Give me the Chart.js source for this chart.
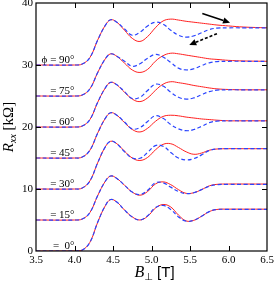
<!DOCTYPE html>
<html>
<head>
<meta charset="utf-8">
<script src="https://cdn.jsdelivr.net/npm/chart.js@4"></script>
<style>
  body { margin: 0; background: #fff; }
  canvas { display: block; }
</style>
</head>
<body>
<canvas id="chart" width="277" height="291"></canvas>
<script>
// field values B_perp [T], shared by all curves
const bField = [3.5, 4.0, 4.1, 4.2, 4.3, 4.4, 4.47, 4.55, 4.65, 4.75, 4.85, 4.95, 5.05, 5.15, 5.25, 5.35, 5.45, 5.55, 5.65, 5.75, 5.85, 6.0, 6.2, 6.5];

// R_xx [kOhm], curves offset by 5 kOhm each; red = solid sweep, blue = dashed sweep
const red90  = [30, 30, 30.15, 31.2, 34.0, 36.4, 37.3, 36.9, 35.6, 34.3, 33.8, 34.6, 36.0, 37.1, 37.4, 37.25, 37.05, 36.9, 36.75, 36.6, 36.45, 36.3, 36.12, 36.0];
const blue90 = [30, 30, 30.15, 31.2, 34.0, 36.4, 37.3, 36.9, 35.8, 34.8, 35.3, 36.3, 36.9, 36.6, 35.6, 34.8, 34.5, 34.7, 35.2, 35.7, 35.95, 36.0, 36.0, 36.0];
const red75  = [25, 25, 25.15, 26.15, 28.75, 31.0, 31.8, 31.4, 30.3, 29.2, 28.8, 29.3, 30.6, 31.5, 31.9, 31.8, 31.6, 31.4, 31.2, 31.0, 30.9, 30.75, 30.65, 30.6];
const blue75 = [25, 25, 25.15, 26.15, 28.75, 31.0, 31.8, 31.4, 30.6, 29.8, 30.2, 31.1, 31.7, 31.3, 30.4, 29.5, 29.2, 29.4, 29.9, 30.35, 30.55, 30.6, 30.6, 30.6];
const red60  = [20, 20, 20.15, 21.2, 23.95, 26.3, 27.2, 26.8, 25.6, 24.5, 24.1, 24.7, 25.9, 26.9, 27.3, 27.15, 26.95, 26.7, 26.5, 26.3, 26.15, 26.05, 26.0, 26.0];
const blue60 = [20, 20, 20.15, 21.2, 23.95, 26.3, 27.2, 26.8, 25.7, 24.6, 24.8, 25.9, 26.9, 26.6, 25.6, 24.8, 24.5, 24.7, 25.2, 25.7, 25.95, 26.0, 26.0, 26.0];
const red45  = [15, 15, 15.15, 16.25, 19.0, 21.4, 22.3, 21.9, 20.7, 19.6, 19.2, 19.8, 20.9, 21.7, 21.9, 21.8, 21.6, 21.45, 21.3, 21.2, 21.1, 21.0, 21.0, 21.0];
const blue45 = [15, 15, 15.15, 16.25, 19.0, 21.4, 22.3, 21.9, 20.8, 19.7, 19.9, 20.9, 21.8, 21.4, 20.4, 19.7, 19.4, 19.6, 20.1, 20.7, 20.95, 21.0, 21.0, 21.0];
const red30  = [10, 10, 10.15, 11.3, 14.2, 16.8, 17.7, 17.3, 16.1, 15.0, 14.6, 15.1, 16.3, 17.2, 17.3, 16.7, 16.0, 15.6, 15.8, 16.25, 16.45, 16.5, 16.5, 16.5];
const blue30 = [10, 10, 10.15, 11.3, 14.2, 16.8, 17.7, 17.3, 16.0, 15.0, 14.95, 15.9, 17.0, 16.9, 15.9, 15.0, 14.7, 14.9, 15.5, 16.2, 16.45, 16.5, 16.5, 16.5];
const red15  = [5, 5, 5.15, 6.2, 8.9, 11.25, 12.1, 11.7, 10.6, 9.5, 9.0, 9.6, 10.8, 11.15, 10.7, 9.9, 9.3, 9.4, 9.9, 10.5, 10.75, 10.8, 10.8, 10.8];
const blue15 = [5, 5, 5.15, 6.2, 8.9, 11.25, 12.1, 11.7, 10.6, 9.5, 9.1, 9.8, 11.0, 11.0, 10.3, 9.6, 9.25, 9.4, 9.9, 10.45, 10.7, 10.75, 10.75, 10.75];
const red0   = [0, 0, 0.15, 1.4, 4.6, 7.3, 8.3, 7.9, 6.6, 5.5, 5.0, 5.6, 6.9, 7.5, 7.1, 5.8, 4.85, 4.95, 5.6, 6.35, 6.7, 6.75, 6.75, 6.75];
const blue0  = [0, 0, 0.15, 1.4, 4.6, 7.3, 8.3, 7.9, 6.6, 5.5, 5.0, 5.7, 7.0, 7.35, 6.7, 5.5, 4.8, 4.95, 5.6, 6.35, 6.7, 6.7, 6.7, 6.7];

// curve labels and the baseline each one sits on
const angleLabels = ['\u03d5 = 90\u00b0', '= 75\u00b0', '= 60\u00b0', '= 45\u00b0', '= 30\u00b0', '= 15\u00b0', '=  0\u00b0'];
const angleOffsets = [30, 25, 20, 15, 10, 5, 0];

// tick positions
const xTicks = [3.5, 4.0, 4.5, 5.0, 5.5, 6.0, 6.5];
const yTicks = [0, 10, 20, 30, 40];

// sweep arrows in data units: [x0, y0, x1, y1]
const solidArrow = [5.66, 38.3, 6.02, 36.82];
const dashedArrow = [5.85, 35.05, 5.49, 33.23];

const redCurves = [red90, red75, red60, red45, red30, red15, red0];
const blueCurves = [blue90, blue75, blue60, blue45, blue30, blue15, blue0];

function toPoints(ys) {
    return bField.map((x, i) => ({ x: x, y: ys[i] }));
}

const datasets = [];
blueCurves.forEach(c => datasets.push({
    data: toPoints(c), borderColor: '#2a44ff', borderWidth: 1.2, borderDash: [4, 2.5], order: 0
}));
redCurves.forEach(c => datasets.push({
    data: toPoints(c), borderColor: '#ff1f1f', borderWidth: 1, order: 1
}));

const serif = '"Liberation Serif", "Times New Roman", serif';

function drawArrow(ctx, xs, ys, a, dashed) {
    const x0 = xs.getPixelForValue(a[0]), y0 = ys.getPixelForValue(a[1]);
    const x1 = xs.getPixelForValue(a[2]), y1 = ys.getPixelForValue(a[3]);
    const ang = Math.atan2(y1 - y0, x1 - x0);
    const hl = 7, hw = 3.2;
    ctx.save();
    ctx.strokeStyle = '#000';
    ctx.fillStyle = '#000';
    ctx.lineWidth = 1.6;
    if (dashed) ctx.setLineDash([3, 2]);
    ctx.beginPath();
    ctx.moveTo(x0, y0);
    ctx.lineTo(x1 - hl * Math.cos(ang), y1 - hl * Math.sin(ang));
    ctx.stroke();
    ctx.setLineDash([]);
    ctx.beginPath();
    ctx.moveTo(x1, y1);
    ctx.lineTo(x1 - hl * Math.cos(ang) + hw * Math.sin(ang), y1 - hl * Math.sin(ang) - hw * Math.cos(ang));
    ctx.lineTo(x1 - hl * Math.cos(ang) - hw * Math.sin(ang), y1 - hl * Math.sin(ang) + hw * Math.cos(ang));
    ctx.closePath();
    ctx.fill();
    ctx.restore();
}

const decorations = {
    id: 'decorations',
    afterDraw(chart) {
        const ctx = chart.ctx;
        const a = chart.chartArea;
        const xs = chart.scales.x, ys = chart.scales.y;

        // frame with inward ticks on all four sides
        ctx.save();
        ctx.strokeStyle = '#000';
        ctx.lineWidth = 1.2;
        ctx.strokeRect(a.left, a.top, a.right - a.left, a.bottom - a.top);
        ctx.lineWidth = 1;
        ctx.beginPath();
        xTicks.slice(1, -1).forEach(v => {
            const px = Math.round(xs.getPixelForValue(v)) + 0.5;
            ctx.moveTo(px, a.bottom); ctx.lineTo(px, a.bottom - 5);
            ctx.moveTo(px, a.top); ctx.lineTo(px, a.top + 5);
        });
        yTicks.slice(1, -1).forEach(v => {
            const py = Math.round(ys.getPixelForValue(v)) + 0.5;
            ctx.moveTo(a.left, py); ctx.lineTo(a.left + 5, py);
            ctx.moveTo(a.right, py); ctx.lineTo(a.right - 5, py);
        });
        ctx.stroke();

        // angle labels
        ctx.fillStyle = '#000';
        ctx.font = '11px ' + serif;
        ctx.textAlign = 'right';
        ctx.textBaseline = 'alphabetic';
        angleLabels.forEach((t, i) => {
            ctx.fillText(t, xs.getPixelForValue(4.0), ys.getPixelForValue(angleOffsets[i]) - 2);
        });

        // arrows
        drawArrow(ctx, xs, ys, solidArrow, false);
        drawArrow(ctx, xs, ys, dashedArrow, true);

        // x title: B_perp [T]
        ctx.textAlign = 'left';
        const fB = 'italic 16px ' + serif, fSub = '10px "DejaVu Sans", sans-serif', fT = '15px "Liberation Sans", Arial, sans-serif';
        ctx.font = fB; const wB = ctx.measureText('B').width;
        ctx.font = fSub; const wS = ctx.measureText('\u22a5').width;
        ctx.font = fT; const wT = ctx.measureText(' [T]').width;
        let x = (a.left + a.right) / 2 + 3 - (wB + wS + wT) / 2;
        const yb = 277;
        ctx.font = fB; ctx.fillText('B', x, yb); x += wB;
        ctx.font = fSub; ctx.fillText('\u22a5', x, yb + 3); x += wS;
        ctx.font = fT; ctx.fillText(' [T]', x, yb);

        // y title: R_xx [kOhm]
        ctx.translate(13, (a.top + a.bottom) / 2);
        ctx.rotate(-Math.PI / 2);
        const fR = 'italic 15px ' + serif, fXX = 'italic 10px ' + serif, fK = '15px ' + serif;
        ctx.font = fR; const wR = ctx.measureText('R').width;
        ctx.font = fXX; const wX = ctx.measureText('xx').width;
        ctx.font = fK; const wK = ctx.measureText(' [k\u03a9]').width;
        let t = -(wR + wX + wK) / 2;
        ctx.font = fR; ctx.fillText('R', t, 0); t += wR;
        ctx.font = fXX; ctx.fillText('xx', t, 3); t += wX;
        ctx.font = fK; ctx.fillText(' [k\u03a9]', t, 0);
        ctx.restore();
    }
};

new Chart(document.getElementById('chart'), {
    type: 'line',
    data: { datasets: datasets },
    options: {
        responsive: false,
        animation: false,
        events: [],
        layout: { padding: { top: 3, right: 10, left: 0, bottom: 0 } },
        elements: {
            point: { radius: 0 },
            line: { tension: 0.4, fill: false }
        },
        plugins: { legend: { display: false }, tooltip: { enabled: false } },
        scales: {
            x: {
                type: 'linear', min: 3.5, max: 6.5,
                grid: { display: false, drawTicks: false },
                border: { display: false },
                afterBuildTicks: s => { s.ticks = xTicks.map(v => ({ value: v })); },
                afterFit: s => { s.height = 40; s.paddingLeft = 0; s.paddingRight = 0; },
                ticks: { padding: 3, color: '#000', font: { family: serif, size: 11 }, callback: v => v.toFixed(1), maxRotation: 0 }
            },
            y: {
                min: 0, max: 40,
                grid: { display: false, drawTicks: false },
                border: { display: false },
                afterBuildTicks: s => { s.ticks = yTicks.map(v => ({ value: v })); },
                afterFit: s => { s.width = 36; s.paddingTop = 0; s.paddingBottom = 0; },
                ticks: { padding: 3, color: '#000', font: { family: serif, size: 11 } }
            }
        }
    },
    plugins: [decorations]
});
</script>
</body>
</html>
